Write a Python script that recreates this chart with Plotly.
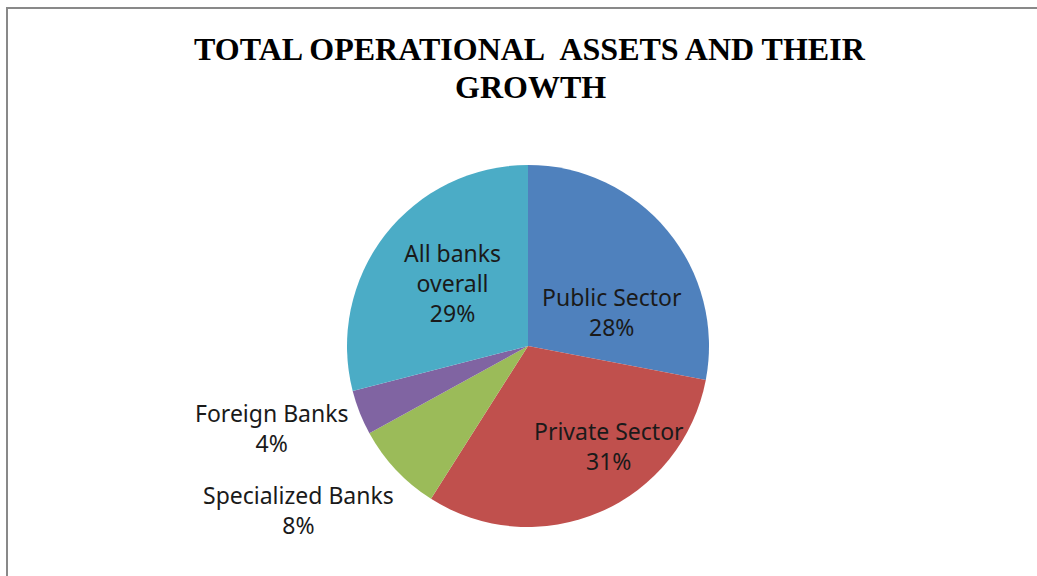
import plotly.graph_objects as go

# Share of total operational assets by bank group (%)
categories = ["Public Sector", "Private Sector", "Specialized Banks", "Foreign Banks", "All banks overall"]
shares = [28, 31, 8, 4, 29]
colors = ["#4F81BD", "#C0504D", "#9BBB59", "#8064A2", "#4BACC6"]

# Label text lines and their anchor points (pixel positions in a 1037x576 canvas)
label_lines = ["Public Sector", "Private Sector", "Specialized Banks", "Foreign Banks", "All banks<br>overall"]
label_px = [(612, 312), (609, 446), (298, 510), (272, 428), (452, 283)]

title_lines = ["TOTAL OPERATIONAL\u00a0 ASSETS AND THEIR", "GROWTH"]
title_px = [(530, 49), (530, 87)]

W, H = 1037, 576
cx, cy, r = 528, 346, 181

fig = go.Figure(
    go.Pie(
        labels=categories,
        values=shares,
        sort=False,
        direction="clockwise",
        rotation=0,
        marker=dict(colors=colors, line=dict(width=0)),
        textinfo="none",
        hoverinfo="label+percent",
        showlegend=False,
        domain=dict(x=[(cx - r) / W, (cx + r) / W], y=[1 - (cy + r) / H, 1 - (cy - r) / H]),
    )
)

for text, v, (px, py) in zip(label_lines, shares, label_px):
    fig.add_annotation(
        x=px / W, y=1 - py / H, xref="paper", yref="paper",
        text=f"{text}<br>{v}%", showarrow=False,
        font=dict(family="Noto Sans", size=23, color="#1a1a1a"),
        align="center", xanchor="center", yanchor="middle",
    )

for text, (px, py) in zip(title_lines, title_px):
    fig.add_annotation(
        x=px / W, y=1 - py / H, xref="paper", yref="paper",
        text=f"<b>{text}</b>", showarrow=False,
        align="center", xanchor="center", yanchor="middle",
        font=dict(family="Liberation Serif", size=32, color="#000000"),
    )

# Chart-area frame
fig.add_shape(
    type="rect", xref="paper", yref="paper",
    x0=7 / W, x1=1.02, y0=-0.02, y1=1 - 8 / H,
    line=dict(color="#898989", width=2), fillcolor="rgba(0,0,0,0)",
)

fig.update_layout(
    width=W, height=H,
    margin=dict(l=0, r=0, t=0, b=0),
    paper_bgcolor="white", plot_bgcolor="white",
)

fig.write_html("out.html")
